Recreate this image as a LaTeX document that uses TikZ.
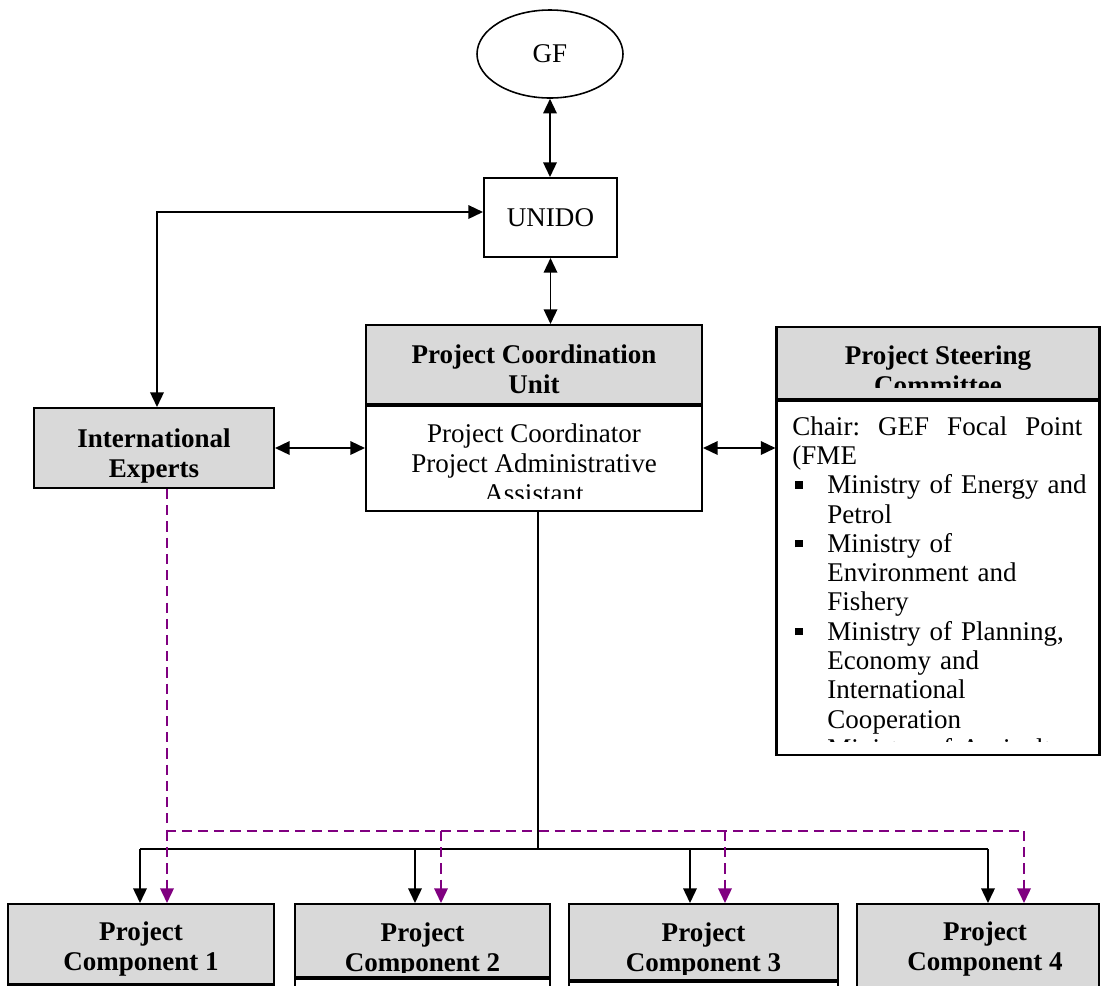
\documentclass[tikz,border=0pt]{standalone}
\usepackage{fontspec}
\setmainfont{Liberation Serif}
\usepackage{tikz}
\usetikzlibrary{positioning,arrows.meta,shapes.geometric}
\definecolor{boxgray}{RGB}{217,217,217}
\definecolor{linkpurple}{RGB}{128,0,128}
\newdimen\px \px=0.444pt
\newcommand{\sqitem}{\par\noindent\hangindent=35\px\hangafter=1\hbox to 35\px{\hspace{3\px}\rule[5\px]{7.5\px}{7.5\px}\hfil}}

\begin{document}
\begin{tikzpicture}[x=0.444pt,y=-0.444pt,font=\fontsize{12}{13.3}\selectfont,
  box/.style={draw,line width=0.9pt,inner sep=0pt,align=center},
  hdr/.style={box,fill=boxgray},
  txt/.style={inner sep=0pt,align=center},
  btxt/.style={txt,font=\fontsize{12}{13.3}\selectfont\bfseries},
  link/.style={line width=0.8pt},
  arr/.style={link,-{Triangle[length=6.5pt,width=6pt]}},
  biarr/.style={link,{Triangle[length=6.5pt,width=6pt]}-{Triangle[length=6.5pt,width=6pt]}},
  purp/.style={line width=0.8pt,linkpurple,dash pattern=on 4.5pt off 2.7pt},
  parr/.style={purp,-{Triangle[length=6.5pt,width=6pt]}}]
\useasboundingbox (0,0) rectangle (1101,985);

% top of the chart
\node[box,ellipse,line width=0.7pt,minimum width=146\px,minimum height=88\px] (gf) at (550,54) {GF};
\node[box,minimum width=133\px,minimum height=79\px] (unido) at (550.5,217.5) {UNIDO};

% coordination unit
\node[hdr,minimum width=336\px,minimum height=79\px] (pcuh) at (534,364.5) {};
\node[btxt,anchor=north] (pcuht) at (534,344) {Project Coordination\\Unit};
\node[box,minimum width=336\px,minimum height=105\px,anchor=north] (pcub) at (pcuh.south) {};
\begin{scope}
  \clip (366,404) rectangle (702,498);
  \node[txt,anchor=north] (pcubt) at (534,423) {Project Coordinator\\Project Administrative\\Assistant};
\end{scope}

% steering committee
\node[hdr,minimum width=323\px,minimum height=72\px] (psch) at (938,363) {};
\node[box,minimum width=323\px,minimum height=354\px,anchor=north] (pscb) at (psch.south) {};
\begin{scope}
  \clip (777,327) rectangle (1100,387);
  \node[btxt,anchor=north] (pscht) at (938,345) {Project Steering\\Committee};
\end{scope}
\begin{scope}
  \clip (777,399) rectangle (1100,741);
  \node[inner sep=0pt,anchor=north west,text width=310\px,align=left,
    font=\fontsize{12}{13}\selectfont] (pscbt) at (792,416) {%
    \noindent\hbox to 290\px{Chair:\hfill GEF\hfill Focal\hfill Point}\newline (FME
    \sqitem Ministry of Energy and\newline Petrol
    \sqitem Ministry of\newline Environment and\newline Fishery
    \sqitem Ministry of Planning,\newline Economy and\newline International\newline Cooperation
    \sqitem Ministry of Agriculture};
\end{scope}

% experts
\node[hdr,minimum width=240\px,minimum height=80\px] (ie) at (154,448) {};
\node[btxt,anchor=north] (iet) at (154,428) {International\\Experts};

% components
\node[hdr,minimum width=266\px,minimum height=80\px,anchor=north] (comp1) at (141,903) {};
\node[box,fill=white,minimum width=266\px,minimum height=60\px,anchor=north] (comp1b) at (comp1.south) {};
\node[btxt,anchor=north] (comp1t) at (141,921) {Project\\Component 1};
\node[hdr,minimum width=255\px,minimum height=73\px,anchor=north] (comp2) at (422.5,903) {};
\node[box,fill=white,minimum width=255\px,minimum height=60\px,anchor=north] (comp2b) at (comp2.south) {};
\begin{scope}
  \clip (295,903) rectangle (550,972);
  \node[btxt,anchor=north] (comp2t) at (422.5,922) {Project\\Component 2};
\end{scope}
\node[hdr,minimum width=269\px,minimum height=76\px,anchor=north] (comp3) at (703.5,903) {};
\node[box,fill=white,minimum width=269\px,minimum height=60\px,anchor=north] (comp3b) at (comp3.south) {};
\begin{scope}
  \clip (569,903) rectangle (838,974);
  \node[btxt,anchor=north] (comp3t) at (703.5,922) {Project\\Component 3};
\end{scope}
\node[hdr,minimum width=242\px,minimum height=110\px,anchor=north] (comp4) at (978,903) {};
\node[btxt,anchor=north] (comp4t) at (985,921) {Project\\Component 4};

% links
\draw[biarr] (gf.south) -- (gf.south |- unido.north);
\draw[biarr] (unido.south) -- (unido.south |- pcuh.north);
\draw[biarr] ([yshift=5.5\px]unido.west) -| ([xshift=3\px]ie.north);
\draw[biarr] (ie.east) -- (ie.east -| pcub.west);
\draw[biarr] (ie.east -| pcub.east) -- (ie.east -| pscb.west);

\coordinate (bmid) at (538,849);
\coordinate (b1) at (140,849);
\coordinate (b2) at (415,849);
\coordinate (b3) at (690,849);
\coordinate (b4) at (988,849);
\draw[link] (pcub.south -| bmid) -- (bmid);
\draw[link] (b1) -- (b4);
\draw[arr] (b1) -- (b1 |- comp1.north);
\draw[arr] (b2) -- (b2 |- comp2.north);
\draw[arr] (b3) -- (b3 |- comp3.north);
\draw[arr] (b4) -- (b4 |- comp4.north);

% expert support (dashed)
\coordinate (v1) at (167,831);
\coordinate (v2) at (441,831);
\coordinate (v3) at (725,831);
\coordinate (v4) at (1024,831);
\draw[purp] (ie.south -| v1) -- (v1) -- (v4);
\draw[parr] (v1) -- (v1 |- comp1.north);
\draw[parr] (v2) -- (v2 |- comp2.north);
\draw[parr] (v3) -- (v3 |- comp3.north);
\draw[parr] (v4) -- (v4 |- comp4.north);
\end{tikzpicture}
\end{document}
